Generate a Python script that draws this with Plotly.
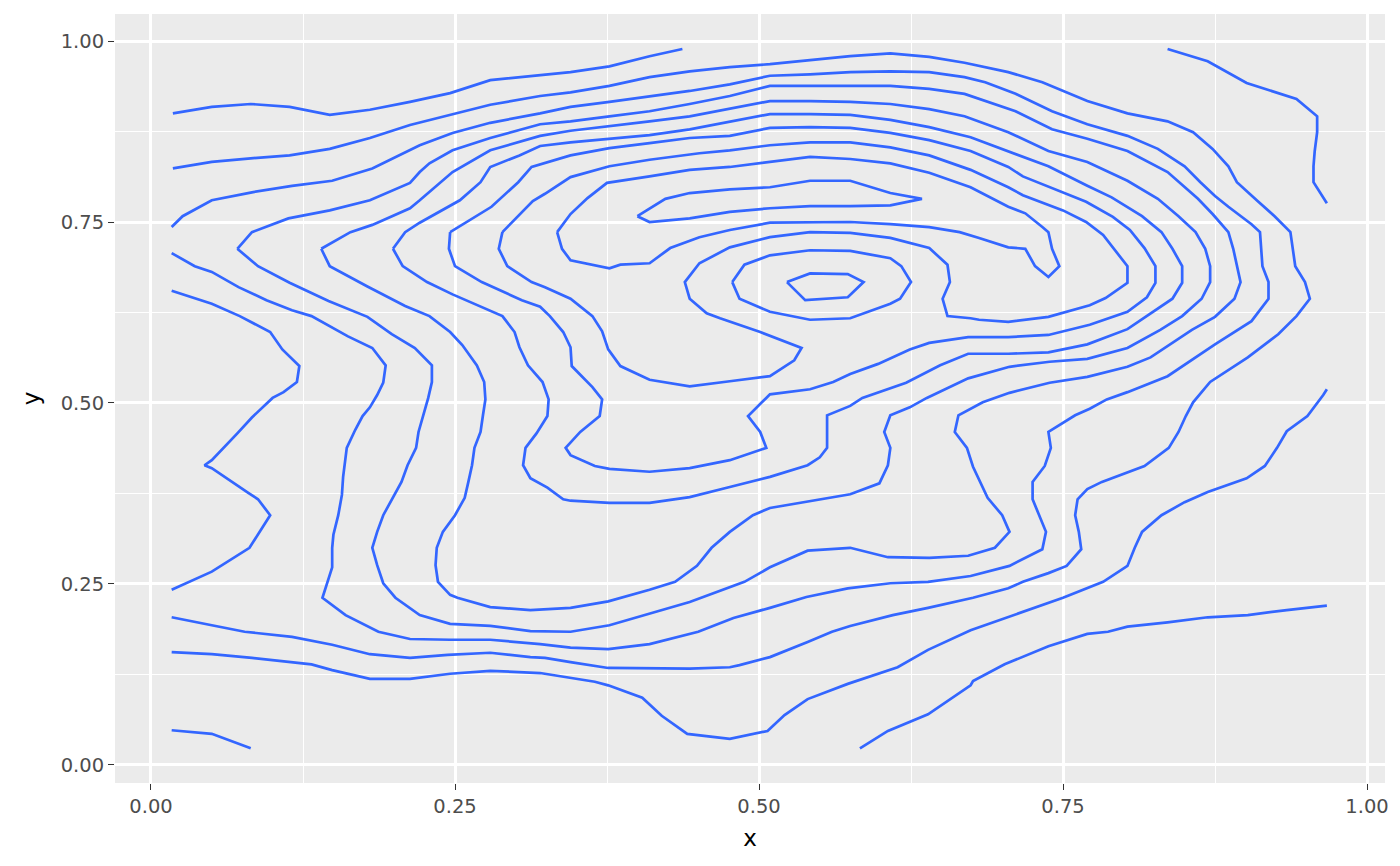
import plotly.graph_objects as go

# Contour paths of the 2D density estimate (data units)
a_x = [0.018, 0.050, 0.082, 0.114, 0.147, 0.180, 0.213, 0.246, 0.279, 0.312, 0.345, 0.377, 0.410, 0.437]
a_y = [0.900, 0.909, 0.913, 0.909, 0.898, 0.905, 0.916, 0.928, 0.946, 0.952, 0.957, 0.965, 0.979, 0.989]

a2_x = [0.836, 0.869, 0.901, 0.934, 0.942, 0.959, 0.959, 0.957, 0.956, 0.956, 0.967]
a2_y = [0.989, 0.972, 0.942, 0.925, 0.920, 0.896, 0.874, 0.848, 0.827, 0.805, 0.776]

b_x = [0.018, 0.050, 0.082, 0.114, 0.147, 0.180, 0.213, 0.246, 0.279, 0.320, 0.345, 0.377, 0.410, 0.443,
       0.476, 0.509, 0.542, 0.575, 0.608, 0.640, 0.669, 0.705, 0.733, 0.770, 0.803, 0.836, 0.857, 0.873,
       0.886, 0.893, 0.910, 0.924, 0.937, 0.941, 0.949, 0.953, 0.942, 0.927, 0.902, 0.871, 0.857, 0.851,
       0.845, 0.837, 0.817, 0.782, 0.770, 0.762, 0.760, 0.763, 0.765, 0.753, 0.738, 0.717, 0.705, 0.676,
       0.639, 0.610, 0.575, 0.560, 0.540, 0.509, 0.484, 0.476, 0.443, 0.410, 0.376, 0.345, 0.324, 0.312,
       0.279, 0.244, 0.213, 0.180, 0.149, 0.116, 0.077, 0.050, 0.017]
b_y = [0.824, 0.833, 0.838, 0.842, 0.851, 0.866, 0.884, 0.898, 0.912, 0.924, 0.929, 0.938, 0.950, 0.958,
       0.964, 0.968, 0.974, 0.979, 0.983, 0.978, 0.970, 0.957, 0.943, 0.917, 0.900, 0.889, 0.874, 0.851,
       0.827, 0.805, 0.779, 0.758, 0.736, 0.689, 0.667, 0.644, 0.620, 0.595, 0.563, 0.529, 0.501, 0.482,
       0.460, 0.438, 0.413, 0.391, 0.381, 0.367, 0.345, 0.322, 0.298, 0.275, 0.265, 0.253, 0.244, 0.231,
       0.217, 0.207, 0.192, 0.184, 0.170, 0.149, 0.138, 0.135, 0.133, 0.133, 0.134, 0.142, 0.148, 0.149,
       0.155, 0.152, 0.148, 0.153, 0.166, 0.177, 0.184, 0.193, 0.204]

c_x = [0.017, 0.026, 0.050, 0.083, 0.116, 0.149, 0.182, 0.213, 0.221, 0.248, 0.279, 0.320, 0.345, 0.377,
       0.410, 0.443, 0.476, 0.509, 0.542, 0.575, 0.608, 0.640, 0.669, 0.686, 0.711, 0.741, 0.770, 0.803,
       0.828, 0.850, 0.863, 0.875, 0.886, 0.905, 0.912, 0.914, 0.919, 0.919, 0.905, 0.875, 0.836, 0.803,
       0.786, 0.772, 0.760, 0.738, 0.740, 0.735, 0.725, 0.725, 0.736, 0.733, 0.706, 0.674, 0.639, 0.608,
       0.573, 0.539, 0.509, 0.479, 0.450, 0.410, 0.376, 0.345, 0.320, 0.279, 0.246, 0.213, 0.187, 0.160,
       0.141, 0.145, 0.149, 0.149, 0.150, 0.154, 0.157, 0.158, 0.161, 0.168, 0.174, 0.180, 0.186, 0.191,
       0.193, 0.182, 0.162, 0.132, 0.116, 0.095, 0.072, 0.050, 0.036, 0.017]
c_y = [0.743, 0.758, 0.780, 0.791, 0.800, 0.807, 0.824, 0.849, 0.856, 0.873, 0.887, 0.900, 0.909, 0.916,
       0.923, 0.931, 0.940, 0.952, 0.954, 0.957, 0.958, 0.957, 0.950, 0.943, 0.927, 0.903, 0.885, 0.869,
       0.851, 0.827, 0.805, 0.786, 0.771, 0.747, 0.736, 0.689, 0.667, 0.644, 0.613, 0.581, 0.537, 0.515,
       0.505, 0.492, 0.483, 0.460, 0.438, 0.413, 0.391, 0.367, 0.322, 0.298, 0.275, 0.261, 0.253, 0.251,
       0.244, 0.232, 0.217, 0.203, 0.184, 0.167, 0.160, 0.162, 0.167, 0.173, 0.173, 0.174, 0.184, 0.207,
       0.231, 0.253, 0.273, 0.300, 0.318, 0.345, 0.373, 0.398, 0.438, 0.463, 0.482, 0.494, 0.511, 0.528,
       0.552, 0.576, 0.592, 0.620, 0.628, 0.642, 0.660, 0.681, 0.689, 0.707]

d_x = [0.071, 0.083, 0.113, 0.147, 0.180, 0.213, 0.221, 0.229, 0.248, 0.279, 0.320, 0.345, 0.377, 0.410,
       0.443, 0.476, 0.509, 0.542, 0.575, 0.608, 0.640, 0.669, 0.711, 0.741, 0.770, 0.803, 0.836, 0.850,
       0.861, 0.873, 0.886, 0.890, 0.893, 0.896, 0.891, 0.875, 0.856, 0.838, 0.822, 0.803, 0.770, 0.739,
       0.706, 0.684, 0.664, 0.661, 0.671, 0.676, 0.688, 0.700, 0.706, 0.694, 0.672, 0.640, 0.606, 0.575,
       0.550, 0.540, 0.509, 0.488, 0.443, 0.410, 0.377, 0.345, 0.312, 0.279, 0.246, 0.221, 0.201, 0.191,
       0.186, 0.182, 0.186, 0.191, 0.199, 0.206, 0.211, 0.218, 0.220, 0.224, 0.228, 0.231, 0.231, 0.217,
       0.198, 0.178, 0.146, 0.114, 0.088, 0.071]
d_y = [0.713, 0.736, 0.755, 0.766, 0.780, 0.804, 0.819, 0.831, 0.849, 0.866, 0.885, 0.889, 0.896, 0.903,
       0.913, 0.924, 0.938, 0.938, 0.938, 0.938, 0.934, 0.927, 0.903, 0.878, 0.865, 0.848, 0.819, 0.798,
       0.782, 0.761, 0.736, 0.713, 0.689, 0.667, 0.644, 0.619, 0.601, 0.581, 0.563, 0.550, 0.536, 0.528,
       0.514, 0.501, 0.483, 0.460, 0.438, 0.412, 0.369, 0.345, 0.322, 0.300, 0.289, 0.286, 0.287, 0.300,
       0.297, 0.296, 0.273, 0.253, 0.225, 0.209, 0.193, 0.184, 0.185, 0.192, 0.195, 0.207, 0.231, 0.251,
       0.276, 0.300, 0.322, 0.345, 0.370, 0.391, 0.414, 0.438, 0.460, 0.483, 0.507, 0.529, 0.552, 0.576,
       0.595, 0.619, 0.641, 0.666, 0.689, 0.713]

e_x = [0.140, 0.164, 0.182, 0.213, 0.221, 0.248, 0.279, 0.320, 0.345, 0.377, 0.410, 0.443, 0.476, 0.509,
       0.542, 0.575, 0.608, 0.640, 0.669, 0.705, 0.738, 0.770, 0.803, 0.828, 0.845, 0.859, 0.867, 0.871,
       0.871, 0.864, 0.848, 0.830, 0.803, 0.770, 0.739, 0.706, 0.672, 0.638, 0.624, 0.608, 0.603, 0.608,
       0.606, 0.599, 0.575, 0.542, 0.509, 0.495, 0.476, 0.461, 0.449, 0.431, 0.410, 0.376, 0.345, 0.312,
       0.279, 0.252, 0.246, 0.236, 0.234, 0.235, 0.240, 0.250, 0.258, 0.261, 0.264, 0.266, 0.271, 0.273,
       0.275, 0.274, 0.268, 0.256, 0.246, 0.229, 0.209, 0.178, 0.147, 0.140]
e_y = [0.713, 0.736, 0.746, 0.769, 0.780, 0.819, 0.849, 0.869, 0.876, 0.882, 0.889, 0.896, 0.906, 0.917,
       0.917, 0.916, 0.913, 0.906, 0.896, 0.874, 0.848, 0.833, 0.807, 0.782, 0.758, 0.736, 0.713, 0.689,
       0.667, 0.644, 0.620, 0.601, 0.576, 0.561, 0.557, 0.550, 0.534, 0.507, 0.494, 0.483, 0.460, 0.438,
       0.414, 0.389, 0.374, 0.365, 0.355, 0.345, 0.322, 0.300, 0.275, 0.253, 0.242, 0.226, 0.217, 0.214,
       0.218, 0.231, 0.235, 0.253, 0.276, 0.300, 0.322, 0.345, 0.369, 0.391, 0.414, 0.438, 0.460, 0.483,
       0.505, 0.529, 0.552, 0.580, 0.598, 0.620, 0.634, 0.661, 0.689, 0.713]

f_x = [0.199, 0.209, 0.221, 0.254, 0.271, 0.279, 0.303, 0.320, 0.345, 0.377, 0.410, 0.443, 0.476, 0.509,
       0.542, 0.575, 0.608, 0.640, 0.674, 0.705, 0.738, 0.770, 0.790, 0.815, 0.831, 0.840, 0.848, 0.848,
       0.840, 0.803, 0.770, 0.738, 0.705, 0.672, 0.649, 0.621, 0.585, 0.575, 0.556, 0.556, 0.550, 0.540,
       0.509, 0.476, 0.443, 0.410, 0.377, 0.345, 0.339, 0.326, 0.312, 0.306, 0.308, 0.317, 0.326, 0.327,
       0.322, 0.310, 0.303, 0.299, 0.289, 0.248, 0.227, 0.207, 0.199]
f_y = [0.713, 0.736, 0.749, 0.780, 0.805, 0.826, 0.842, 0.855, 0.860, 0.865, 0.870, 0.878, 0.888, 0.899,
       0.899, 0.898, 0.891, 0.881, 0.867, 0.848, 0.827, 0.800, 0.784, 0.758, 0.736, 0.713, 0.689, 0.666,
       0.644, 0.602, 0.581, 0.570, 0.568, 0.568, 0.552, 0.528, 0.507, 0.496, 0.483, 0.438, 0.425, 0.414,
       0.398, 0.384, 0.370, 0.362, 0.362, 0.365, 0.367, 0.383, 0.396, 0.414, 0.438, 0.458, 0.482, 0.505,
       0.529, 0.552, 0.577, 0.598, 0.620, 0.650, 0.667, 0.689, 0.713]

g_x = [0.246, 0.280, 0.302, 0.313, 0.345, 0.377, 0.410, 0.443, 0.476, 0.509, 0.542, 0.575, 0.608, 0.640,
       0.674, 0.705, 0.717, 0.750, 0.769, 0.791, 0.805, 0.817, 0.826, 0.826, 0.819, 0.803, 0.772, 0.738,
       0.705, 0.672, 0.640, 0.624, 0.608, 0.598, 0.575, 0.561, 0.542, 0.509, 0.506, 0.491, 0.501, 0.506,
       0.476, 0.443, 0.410, 0.377, 0.365, 0.345, 0.341, 0.347, 0.353, 0.369, 0.371, 0.363, 0.346, 0.345,
       0.339, 0.328, 0.320, 0.305, 0.272, 0.250, 0.245, 0.246]
g_y = [0.736, 0.771, 0.805, 0.826, 0.842, 0.852, 0.859, 0.866, 0.869, 0.880, 0.881, 0.880, 0.873, 0.863,
       0.848, 0.826, 0.813, 0.791, 0.778, 0.757, 0.739, 0.714, 0.689, 0.666, 0.646, 0.626, 0.608, 0.594,
       0.591, 0.591, 0.583, 0.574, 0.561, 0.554, 0.540, 0.529, 0.519, 0.512, 0.507, 0.482, 0.460, 0.438,
       0.421, 0.410, 0.405, 0.409, 0.413, 0.428, 0.438, 0.449, 0.460, 0.482, 0.505, 0.522, 0.551, 0.577,
       0.598, 0.620, 0.633, 0.642, 0.667, 0.689, 0.713, 0.736]

h_x = [0.289, 0.314, 0.324, 0.345, 0.377, 0.410, 0.451, 0.476, 0.509, 0.542, 0.575, 0.608, 0.640, 0.674,
       0.705, 0.717, 0.750, 0.769, 0.783, 0.793, 0.803, 0.803, 0.785, 0.772, 0.750, 0.738, 0.705, 0.681,
       0.674, 0.655, 0.651, 0.657, 0.655, 0.640, 0.608, 0.575, 0.542, 0.509, 0.476, 0.451, 0.439, 0.443,
       0.457, 0.468, 0.501, 0.535, 0.529, 0.509, 0.476, 0.443, 0.410, 0.386, 0.376, 0.371, 0.363, 0.345,
       0.324, 0.313, 0.293, 0.286, 0.289]
h_y = [0.736, 0.779, 0.789, 0.812, 0.827, 0.836, 0.845, 0.849, 0.856, 0.860, 0.860, 0.853, 0.842, 0.822,
       0.798, 0.787, 0.766, 0.750, 0.732, 0.711, 0.689, 0.666, 0.645, 0.635, 0.624, 0.619, 0.612, 0.615,
       0.617, 0.620, 0.644, 0.667, 0.691, 0.714, 0.728, 0.735, 0.736, 0.729, 0.715, 0.693, 0.667, 0.644,
       0.624, 0.617, 0.598, 0.576, 0.559, 0.537, 0.530, 0.523, 0.532, 0.551, 0.574, 0.599, 0.620, 0.644,
       0.660, 0.667, 0.689, 0.713, 0.736]

i_x = [0.334, 0.345, 0.359, 0.375, 0.410, 0.443, 0.476, 0.509, 0.542, 0.575, 0.608, 0.640, 0.674, 0.705,
       0.719, 0.733, 0.738, 0.741, 0.747, 0.738, 0.727, 0.719, 0.705, 0.681, 0.665, 0.640, 0.608, 0.575,
       0.542, 0.509, 0.476, 0.451, 0.427, 0.410, 0.386, 0.377, 0.345, 0.338, 0.334]
i_y = [0.736, 0.761, 0.783, 0.804, 0.813, 0.822, 0.826, 0.833, 0.840, 0.837, 0.831, 0.818, 0.798, 0.771,
       0.762, 0.743, 0.736, 0.713, 0.689, 0.674, 0.689, 0.713, 0.715, 0.728, 0.736, 0.743, 0.747, 0.750,
       0.750, 0.749, 0.739, 0.729, 0.714, 0.693, 0.691, 0.686, 0.697, 0.713, 0.736]

j_x = [0.400, 0.423, 0.443, 0.476, 0.509, 0.542, 0.575, 0.608, 0.634, 0.608, 0.575, 0.542, 0.509, 0.476,
       0.443, 0.410, 0.400]
j_y = [0.758, 0.782, 0.790, 0.795, 0.798, 0.807, 0.807, 0.790, 0.782, 0.773, 0.772, 0.772, 0.769, 0.764,
       0.755, 0.750, 0.758]

k_x = [0.478, 0.488, 0.509, 0.542, 0.575, 0.608, 0.617, 0.625, 0.616, 0.608, 0.575, 0.542, 0.509, 0.484, 0.478]
k_y = [0.667, 0.691, 0.704, 0.711, 0.710, 0.700, 0.689, 0.667, 0.644, 0.637, 0.617, 0.615, 0.626, 0.644, 0.667]

m_x = [0.523, 0.542, 0.573, 0.586, 0.573, 0.542, 0.538, 0.523]
m_y = [0.667, 0.679, 0.678, 0.667, 0.646, 0.642, 0.642, 0.667]

n_x = [0.017, 0.050, 0.073, 0.098, 0.108, 0.122, 0.120, 0.109, 0.100, 0.083, 0.071, 0.058, 0.050, 0.044,
       0.050, 0.080, 0.088, 0.098, 0.081, 0.050, 0.034, 0.017]
n_y = [0.655, 0.637, 0.620, 0.598, 0.574, 0.551, 0.529, 0.515, 0.507, 0.480, 0.458, 0.435, 0.421, 0.414,
       0.410, 0.376, 0.367, 0.345, 0.300, 0.267, 0.255, 0.242]

p_x = [0.017, 0.050, 0.083, 0.116, 0.132, 0.149, 0.180, 0.213, 0.246, 0.279, 0.312, 0.320, 0.365, 0.376,
       0.404, 0.420, 0.441, 0.476, 0.507, 0.521, 0.540, 0.573, 0.614, 0.639, 0.674, 0.713, 0.750, 0.783,
       0.803, 0.809, 0.815, 0.831, 0.850, 0.869, 0.894, 0.901, 0.916, 0.926, 0.934, 0.951, 0.964, 0.967]
p_y = [0.156, 0.153, 0.148, 0.142, 0.139, 0.131, 0.119, 0.119, 0.126, 0.130, 0.128, 0.127, 0.115, 0.110,
       0.093, 0.068, 0.043, 0.036, 0.047, 0.069, 0.091, 0.112, 0.135, 0.159, 0.186, 0.209, 0.231, 0.253,
       0.275, 0.300, 0.322, 0.345, 0.363, 0.377, 0.391, 0.396, 0.413, 0.438, 0.461, 0.482, 0.511, 0.519]

q_x = [0.017, 0.050, 0.082]
q_y = [0.048, 0.043, 0.023]

r_x = [0.583, 0.606, 0.639, 0.674, 0.676, 0.702, 0.738, 0.770, 0.787, 0.803, 0.836, 0.869, 0.902, 0.934, 0.967]
r_y = [0.023, 0.047, 0.070, 0.110, 0.116, 0.139, 0.164, 0.181, 0.184, 0.191, 0.197, 0.204, 0.207, 0.214, 0.220]

paths = [(a_x, a_y), (a2_x, a2_y), (b_x, b_y), (c_x, c_y), (d_x, d_y), (e_x, e_y),
         (f_x, f_y), (g_x, g_y), (h_x, h_y), (i_x, i_y), (j_x, j_y), (k_x, k_y),
         (m_x, m_y), (n_x, n_y), (p_x, p_y), (q_x, q_y), (r_x, r_y)]

tick_vals = [0.0, 0.25, 0.5, 0.75, 1.0]
tick_text = ["0.00", "0.25", "0.50", "0.75", "1.00"]
minor_vals = [0.125, 0.375, 0.625, 0.875]

LINE_COLOR = "#3366FF"
FONT = "DejaVu Sans"

fig = go.Figure()
for px_, py_ in paths:
    fig.add_trace(go.Scatter(x=px_, y=py_, mode="lines",
                             line=dict(color=LINE_COLOR, width=2.7),
                             hoverinfo="skip", showlegend=False))

axis_common = dict(
    showgrid=True, gridcolor="white", gridwidth=2.6,
    zeroline=False, showline=False,
    ticks="outside", ticklen=6, tickwidth=1.4, tickcolor="#333333",
    tickvals=tick_vals, ticktext=tick_text,
    tickfont=dict(family=FONT, size=19.5, color="#4D4D4D"),
    minor=dict(showgrid=True, gridcolor="white", gridwidth=1.2,
               tickvals=minor_vals, ticks=""),
)

# The page body adds an 8px offset, so the figure is sized to fit the window with it.
fig.update_layout(
    width=1392, height=858,
    paper_bgcolor="white", plot_bgcolor="#EBEBEB",
    margin=dict(l=107, r=15, t=6, b=83),
    showlegend=False,
    xaxis=dict(range=[-0.0296, 1.0148],
               title=dict(text="x", font=dict(family=FONT, size=23, color="black"), standoff=12),
               **axis_common),
    yaxis=dict(range=[-0.0249, 1.0373],
               title=dict(text="y", font=dict(family=FONT, size=23, color="black"), standoff=14),
               **axis_common),
)

fig.write_html("out.html")
